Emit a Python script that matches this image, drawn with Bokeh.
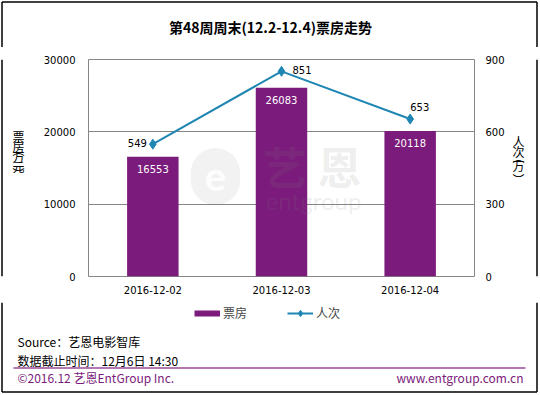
from bokeh.plotting import figure
from bokeh.layouts import column, row
from bokeh.models import (ColumnDataSource, Range1d, LinearAxis, FixedTicker,
                          NumeralTickFormatter, Label, Legend, LegendItem)
from bokeh.core.properties import value
from bokeh.embed import file_html
from bokeh.resources import INLINE

# ---------------- data ----------------
dates = ["2016-12-02", "2016-12-03", "2016-12-04"]
box_office = [16553, 26083, 20118]          # 票房 (万元)
admissions = [549, 851, 653]                # 人次 (万)
left_ticks = [0, 10000, 20000, 30000]
right_ticks = [0, 300, 600, 900]
title_text = "第48周周末(12.2-12.4)票房走势"
legend_labels = ["票房", "人次"]
left_title_chars = ["票", "房", "︵", "万", "元", "︶"]
right_title_chars = ["人", "次", "︵", "万", "︶"]
source_text = "Source：艺恩电影智库"
cutoff_text = "数据截止时间：12月6日  14:30"
footer_left = "©2016.12 艺恩EntGroup Inc."
footer_right = "www.entgroup.com.cn"

# label offsets of the line values (style)
adm_dx = [-25, 11, 0]
adm_dy = [-1, -1, -12]

PURPLE = "#7B1B7B"
BLUE = "#1F86B3"
GRID = "#868686"
CJK = "Noto Sans CJK SC"
NUM = "DejaVu Sans"

W, H = 540, 395
TOP_H = 47
MID_B = 302
LEFT_W = 40
RIGHT_X = 508
FL, FR, FT, FB = 80, 474, 59, 276


def deco_fig(fx0, fx1, fy0, fy1):
    f = figure(width=fx1 - fx0, height=fy1 - fy0,
               x_range=Range1d(fx0, fx1), y_range=Range1d(fy1, fy0),
               output_backend="svg", toolbar_location=None,
               x_axis_type=None, y_axis_type=None,
               min_border=0, min_border_left=0, min_border_right=0,
               min_border_top=0, min_border_bottom=0)
    f.outline_line_color = None
    f.background_fill_color = "white"
    f.border_fill_color = "white"
    return f


def txt(f, x, y, text, size="12px", color="black", font=CJK, align="left",
        bold=False):
    f.text(x=[x], y=[y], text=[text], text_font=value(font),
           text_font_size=size, text_color=color, text_align=align,
           text_baseline="middle", text_font_style="bold" if bold else "normal")


def seg(f, x0, y0, x1, y1, color, width):
    f.segment(x0=[x0], y0=[y0], x1=[x1], y1=[y1], line_color=color, line_width=width)


BX0, BX1, BY0, BY1, BW = 1.5, 536.5, 1.5, 391.5, 1.5

# ---------------- main chart ----------------
p = figure(width=RIGHT_X - LEFT_W, height=MID_B - TOP_H,
           x_range=dates, y_range=Range1d(0, 30000),
           output_backend="svg", toolbar_location=None,
           min_border_left=FL - LEFT_W, min_border_right=RIGHT_X - FR,
           min_border_top=FT - TOP_H, min_border_bottom=MID_B - FB)
p.background_fill_color = "white"
p.border_fill_color = "white"
p.outline_line_color = GRID
p.outline_line_width = 1
p.extra_y_ranges = {"ppl": Range1d(0, 900)}

src = ColumnDataSource(dict(
    date=dates, box=box_office, box_str=[str(v) for v in box_office],
    ppl=admissions, ppl_str=[str(v) for v in admissions],
    dx=adm_dx, dy=adm_dy))

p.vbar(x="date", top="box", width=0.4, source=src,
       fill_color=PURPLE, line_color=None)
p.text(x="date", y="box", text="box_str", source=src, y_offset=12,
       text_align="center", text_baseline="middle", text_color="white",
       text_font=value(NUM), text_font_size="10px")

p.line(x="date", y="ppl", source=src, y_range_name="ppl",
       line_color=BLUE, line_width=2)
p.scatter(x="date", y="ppl", source=src, y_range_name="ppl",
          marker="diamond", size=10, fill_color=BLUE, line_color=BLUE)
p.text(x="date", y="ppl", text="ppl_str", source=src, y_range_name="ppl",
       x_offset="dx", y_offset="dy", text_align="left", text_baseline="middle",
       text_color="black", text_font=value(NUM), text_font_size="10px")

right_axis = LinearAxis(y_range_name="ppl")
p.add_layout(right_axis, "right")
for ax, ticks in ((p.yaxis[0], left_ticks), (right_axis, right_ticks)):
    ax.ticker = FixedTicker(ticks=ticks)
    ax.formatter = NumeralTickFormatter(format="0")
    ax.axis_line_color = None
    ax.major_tick_line_color = None
    ax.minor_tick_line_color = None
    ax.major_tick_out = 0
    ax.major_tick_in = 0
    ax.major_label_text_font = NUM
    ax.major_label_text_font_size = "10px"
    ax.major_label_text_color = "black"
p.yaxis[0].major_label_standoff = 13
right_axis.major_label_standoff = 11

xa = p.xaxis[0]
xa.axis_line_color = None
xa.major_tick_line_color = None
xa.minor_tick_line_color = None
xa.major_tick_out = 0
xa.major_tick_in = 0
xa.major_label_standoff = 9
xa.major_label_text_font = NUM
xa.major_label_text_font_size = "10px"
xa.major_label_text_color = "black"

p.xgrid.visible = False
p.ygrid.ticker = FixedTicker(ticks=left_ticks)
p.ygrid.grid_line_color = GRID
p.ygrid.grid_line_width = 1


def wm(x, y, text, **kw):
    p.add_layout(Label(x=x - FL, y=FB - y, x_units="screen",
                       y_units="screen", text=text, text_baseline="middle",
                       text_align="center", **kw))


wm(207, 176, "e", text_font="Lato", text_font_size="40px", text_font_style="bold",
   text_color="white", text_alpha=0.9, background_fill_color="#808080",
   background_fill_alpha=0.10, border_radius=28, padding=14)
wm(276, 165, "艺", text_font=CJK, text_font_size="44px", text_font_style="bold",
   text_color="#808080", text_alpha=0.15)
wm(331, 165, "恩", text_font=CJK, text_font_size="44px", text_font_style="bold",
   text_color="#808080", text_alpha=0.15)
wm(305, 200, "entgroup", text_font="Lato", text_font_size="24px",
   text_color="#808080", text_alpha=0.15)

# ---------------- top strip ----------------
top = deco_fig(0, W, 0, TOP_H)
txt(top, 270, 26, title_text, size="14px", align="center", bold=True)
seg(top, BX0, BY0, BX1, BY0, "black", BW)
seg(top, BX0, BY0, BX0, TOP_H, "black", BW)
seg(top, BX1, BY0, BX1, TOP_H, "black", BW)

# ---------------- left strip ----------------
left = deco_fig(0, LEFT_W, TOP_H, MID_B)
seg(left, BX0, TOP_H, BX0, MID_B, "black", BW)
left_title_y = [137, 149, 153, 161, 173, 181]
for ch, yy in zip(left_title_chars, left_title_y):
    txt(left, 18, yy, ch, size="12px", align="center")

# ---------------- right strip ----------------
right = deco_fig(RIGHT_X, W, TOP_H, MID_B)
seg(right, BX1, TOP_H, BX1, MID_B, "black", BW)
right_title_y = [143, 155, 161, 172, 188]
for ch, yy in zip(right_title_chars, right_title_y):
    txt(right, 518, yy, ch, size="12px", align="center")

# ---------------- bottom strip ----------------
bottom = deco_fig(0, W, MID_B, H)
seg(bottom, BX0, MID_B, BX0, BY1, "black", BW)
seg(bottom, BX1, MID_B, BX1, BY1, "black", BW)
seg(bottom, BX0, BY1, BX1, BY1, "black", BW)

lg_bar = bottom.line(x=[-100, -90], y=[-100, -100], line_color=PURPLE, line_width=6)
lg_line = bottom.line(x=[-100, -90], y=[-100, -100], line_color=BLUE, line_width=2)
lg_dot = bottom.scatter(x=[-100], y=[-100], marker="diamond", size=10,
                        fill_color=BLUE, line_color=BLUE)
legend_h = 16
legend_cy = 313 - MID_B
legend = Legend(items=[LegendItem(label=legend_labels[0], renderers=[lg_bar]),
                       LegendItem(label=legend_labels[1], renderers=[lg_line, lg_dot])],
                orientation="horizontal",
                location=(194, (H - MID_B) - legend_cy - legend_h / 2),
                glyph_width=26, glyph_height=legend_h, label_standoff=3, spacing=40,
                padding=0, margin=0, border_line_color=None,
                background_fill_alpha=0, label_text_font=CJK,
                label_text_font_size="12px", label_height=legend_h)
bottom.add_layout(legend)

txt(bottom, 17, 341, source_text)
txt(bottom, 17, 360, cutoff_text)
seg(bottom, 13, 367.5, 525, 367.5, "#9A4A9A", 1.5)
txt(bottom, 17, 377, footer_left, color=PURPLE)
txt(bottom, 523, 377, footer_right, color=PURPLE, align="right")

layout = column(top, row(left, p, right), bottom)
open("out.html", "w").write(file_html(layout, INLINE))
